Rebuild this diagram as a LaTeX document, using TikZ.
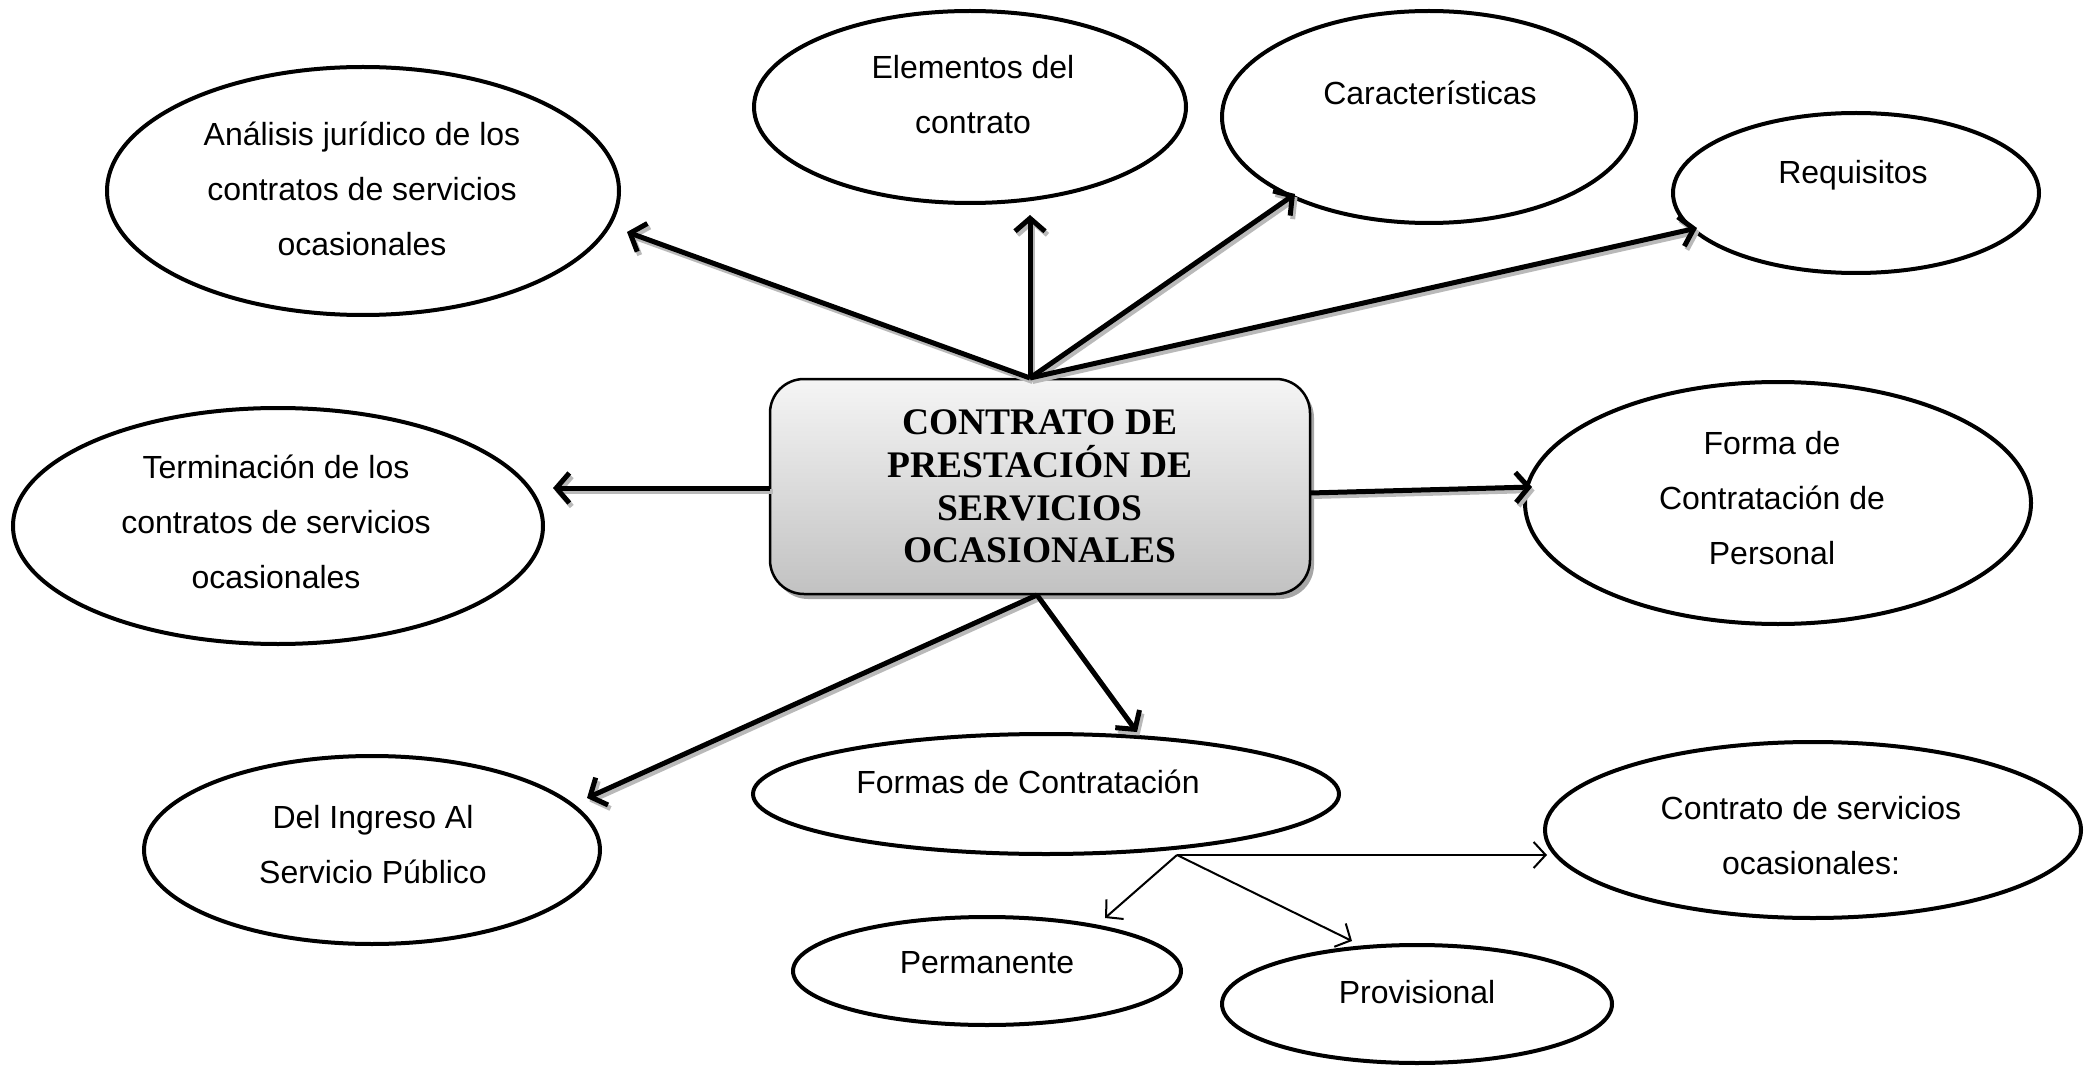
\documentclass[tikz,border=0pt]{standalone}
\usepackage{fontspec}
\setmainfont{Liberation Serif}
\newfontfamily\arialf{Liberation Sans}
\usetikzlibrary{shapes.geometric,arrows.meta,shadows}
\tikzset{
  ell/.style={draw, ellipse, line width=4pt, inner sep=0pt},
  lbl/.style={align=center, font=\arialf\fontsize{32}{55}\selectfont},
  mainbox/.style={draw, line width=2.5pt, rounded corners=34pt, minimum width=540pt, minimum height=215pt,
     top color=gray!8, bottom color=gray!48, align=center,
     font=\bfseries\fontsize{37.5}{42.7}\selectfont,
     drop shadow={shadow xshift=4pt, shadow yshift=-5pt, fill=gray!70, opacity=1}},
  bigarr/.style={line width=5pt, -{Straight Barb[length=13pt,width=30pt]}},
  arrshadow/.style={bigarr, draw=gray!55, transform canvas={shift={(2.5pt,-3.5pt)}}},
  thinarr/.style={line width=2pt, -{Straight Barb[length=12pt,width=26pt]}}
}
\begin{document}
\begin{tikzpicture}[x=1pt,y=-1pt]
\useasboundingbox (0,0) rectangle (2089,1067);

% ellipses
\node[ell, minimum width=512pt, minimum height=248pt] (analisis) at (363,191) {};
\node[ell, minimum width=432pt, minimum height=192pt] (elementos) at (970,107) {};
\node[ell, minimum width=414pt, minimum height=212pt] (caract) at (1429,117) {};
\node[ell, minimum width=366pt, minimum height=160pt] (requisitos) at (1856,193) {};
\node[ell, minimum width=530pt, minimum height=236pt] (terminacion) at (278,526) {};
\node[ell, minimum width=506pt, minimum height=242pt] (forma) at (1778,503) {};
\node[ell, minimum width=456pt, minimum height=188pt] (ingreso) at (372,850) {};
\node[ell, minimum width=586pt, minimum height=120pt] (formas) at (1046,794) {};
\node[ell, minimum width=536pt, minimum height=176pt] (contrato) at (1813,830) {};
\node[ell, minimum width=388pt, minimum height=108pt] (permanente) at (987,971) {};
\node[ell, minimum width=390pt, minimum height=118pt] (provisional) at (1417,1004) {};

% labels
\node[lbl] (t1) at (362,189) {Análisis jurídico de los\\contratos de servicios\\ocasionales};
\node[lbl] (t2) at (973,95) {Elementos del\\contrato};
\node[lbl] (t3) at (1430,93) {Características};
\node[lbl] (t4) at (1853,175) {Requisitos};
\node[lbl] (t5) at (276,522) {Terminación de los\\contratos de servicios\\ocasionales};
\node[lbl] (t6) at (1772,498) {Forma de\\Contratación de\\Personal};
\node[lbl] (t7) at (373,845) {Del Ingreso Al\\Servicio Público};
\node[lbl] (t8) at (1028,782) {Formas de Contratación};
\node[lbl] (t9) at (1811,836) {Contrato de servicios\\ocasionales:};
\node[lbl] (t10) at (987,963) {Permanente};
\node[lbl] (t11) at (1417,992) {Provisional};

% central box
\node[mainbox] (main) at (1040,486.5) {CONTRATO DE\\PRESTACIÓN DE\\SERVICIOS\\OCASIONALES};

% connector points
\coordinate (top) at (1030,378);
\coordinate (bot) at (1037,595);
\coordinate (lft) at (770,488);
\coordinate (rgt) at (1310,493);
\coordinate (branch) at (1177,855);
\coordinate (tipA) at (627,232);
\coordinate (tipE) at (1030,215);
\coordinate (tipC) at (1295,194);
\coordinate (tipR) at (1697,228);
\coordinate (tipT) at (553,488);
\coordinate (tipF) at (1532,487);
\coordinate (tipI) at (587,798);
\coordinate (tipFs) at (1137,732);
\coordinate (tipP) at (1105,918);
\coordinate (tipPv) at (1352,941);
\coordinate (tipCo) at (1547,855);

\foreach \s/\e in {top/tipA, top/tipE, top/tipC, top/tipR, lft/tipT, rgt/tipF, bot/tipI, bot/tipFs}
  \draw[arrshadow] (\s) -- (\e);
\foreach \s/\e in {top/tipA, top/tipE, top/tipC, top/tipR, lft/tipT, rgt/tipF, bot/tipI, bot/tipFs}
  \draw[bigarr] (\s) -- (\e);

\draw[thinarr] (branch) -- (tipP);
\draw[thinarr] (branch) -- (tipPv);
\draw[thinarr] (branch) -- (tipCo);
\end{tikzpicture}
\end{document}
